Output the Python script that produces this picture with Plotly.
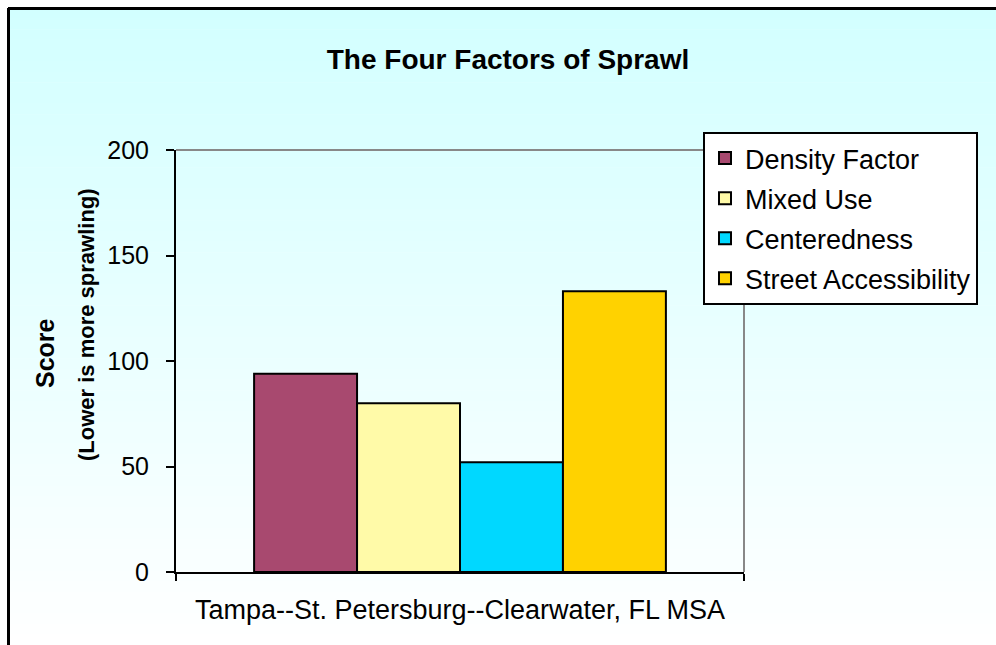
import plotly.graph_objects as go

# ---- data ----
categories = ["Tampa--St. Petersburg--Clearwater, FL MSA"]
series_names = ["Density Factor", "Mixed Use", "Centeredness", "Street Accessibility"]
density = [94]
mixed_use = [80]
centeredness = [52]
street_access = [133]
series_values = [density, mixed_use, centeredness, street_access]
series_colors = ["#A8496F", "#FFFAA8", "#00D8FF", "#FFD200"]
y_ticks = [0, 50, 100, 150, 200]

W, H = 996, 645
L, R, T, B = 176, 744, 150, 572  # plot area in pixels

def px_x(p):
    return (p - L) / (R - L)

def px_y(p):
    return (B - p) / (B - T)

FONT = "Arial, 'Liberation Sans', sans-serif"

fig = go.Figure()
for name, vals, col in zip(series_names, series_values, series_colors):
    fig.add_trace(go.Bar(
        name=name, x=categories, y=vals,
        marker=dict(color=col, line=dict(color="black", width=2)),
        legendgroup=name,
    ))

shapes = []
# background gradient (cyan at top to white at bottom)
N = 60
top_px, bot_px = 8, 645
c0 = (0xD2, 0xFF, 0xFF)
c1 = (0xFF, 0xFF, 0xFF)
for i in range(N):
    y0 = top_px + (bot_px - top_px) * i / N
    y1 = top_px + (bot_px - top_px) * (i + 1) / N + 0.5
    t = (i + 0.5) / N
    c = tuple(round(a + (b - a) * t) for a, b in zip(c0, c1))
    shapes.append(dict(type="rect", xref="paper", yref="paper", layer="below",
                       x0=px_x(8), x1=px_x(W + 2), y0=px_y(y1), y1=px_y(y0),
                       line=dict(width=0), fillcolor="rgb(%d,%d,%d)" % c))
# outer border (top and left)
shapes.append(dict(type="line", xref="paper", yref="paper", x0=px_x(8), x1=px_x(W + 2),
                   y0=px_y(8.5), y1=px_y(8.5), line=dict(color="black", width=3)))
shapes.append(dict(type="line", xref="paper", yref="paper", x0=px_x(8.5), x1=px_x(8.5),
                   y0=px_y(8), y1=px_y(H + 2), line=dict(color="black", width=3)))
# plot area border top and right (gray)
shapes.append(dict(type="line", xref="paper", yref="paper", x0=0, x1=1, y0=1, y1=1,
                   line=dict(color="#888888", width=2)))
shapes.append(dict(type="line", xref="paper", yref="paper", x0=1, x1=1, y0=0, y1=1,
                   line=dict(color="#888888", width=2)))

annotations = [
    dict(text="<b>Score</b>", xref="paper", yref="paper", x=px_x(45), y=px_y(353),
         textangle=-90, showarrow=False, font=dict(family=FONT, size=25, color="black"),
         xanchor="center", yanchor="middle"),
    dict(text="<b>(Lower is more sprawling)</b>", xref="paper", yref="paper", x=px_x(86), y=px_y(325),
         textangle=-90, showarrow=False, font=dict(family=FONT, size=22, color="black"),
         xanchor="center", yanchor="middle"),
]

fig.update_layout(
    width=W, height=H,
    margin=dict(l=L, r=W - R, t=T, b=H - B, pad=0),
    paper_bgcolor="white",
    plot_bgcolor="rgba(0,0,0,0)",
    barmode="group", bargap=0.275, bargroupgap=0,
    title=dict(text="<b>The Four Factors of Sprawl</b>", x=508 / W, xanchor="center",
               y=1 - 59 / H, yanchor="middle", yref="container",
               font=dict(family=FONT, size=28, color="black")),
    font=dict(family=FONT, color="black"),
    showlegend=True,
    legend=dict(x=px_x(703), y=px_y(132), xanchor="left", yanchor="top",
                bgcolor="white", bordercolor="black", borderwidth=2,
                font=dict(family=FONT, size=27, color="black"),
                traceorder="grouped", tracegroupgap=2, itemwidth=30),
    xaxis=dict(showline=True, linecolor="black", linewidth=2,
               ticks="outside", ticklen=7, tickwidth=2, tickcolor="black",
               tickson="boundaries", ticklabelstandoff=13,
               tickfont=dict(family=FONT, size=27, color="black"),
               showgrid=False, zeroline=False),
    yaxis=dict(range=[0, 200], tickvals=y_ticks, showline=True, linecolor="black", linewidth=2,
               ticks="outside", ticklen=8, tickwidth=2, tickcolor="black",
               ticklabelstandoff=12,
               tickfont=dict(family=FONT, size=25, color="black"),
               showgrid=False, zeroline=False),
    shapes=shapes,
    annotations=annotations,
)

fig.write_html("out.html", config={"displayModeBar": False},
               post_script="document.body.style.margin='0';")
